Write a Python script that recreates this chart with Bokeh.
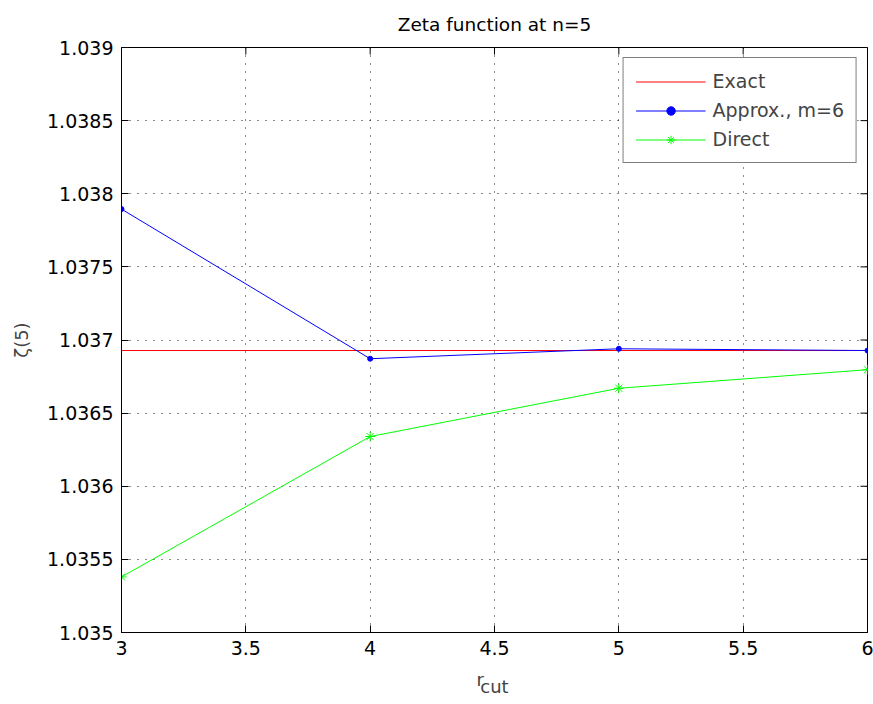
import math
from bokeh.plotting import figure
from bokeh.models import FixedTicker, Range1d, Title
from bokeh.embed import file_html
from bokeh.resources import INLINE

# ---- data ----
r_cut = [3, 4, 5, 6]
exact = [1.036928, 1.036928, 1.036928, 1.036928]
approx_m6 = [1.037895, 1.036872, 1.036940, 1.036928]
direct = [1.035380, 1.036340, 1.036670, 1.036797]

x_ticks = [3, 3.5, 4, 4.5, 5, 5.5, 6]
x_tick_labels = ["3", "3.5", "4", "4.5", "5", "5.5", "6"]
y_ticks = [1.035, 1.0355, 1.036, 1.0365, 1.037, 1.0375, 1.038, 1.0385, 1.039]
y_tick_labels = ["1.035", "1.0355", "1.036", "1.0365", "1.037", "1.0375",
                 "1.038", "1.0385", "1.039"]

FONT = "DejaVu Sans"
FS = "19px"

p = figure(width=873, height=704, output_backend="svg", toolbar_location=None,
           x_range=Range1d(x_ticks[0], x_ticks[-1]),
           y_range=Range1d(y_ticks[0], y_ticks[-1]),
           min_border_left=121, min_border_right=6, min_border_top=47,
           min_border_bottom=72, background_fill_color="white",
           border_fill_color="white")

p.title.text = "Zeta function at n=5"
p.title.align = "center"
p.title.vertical_align = "top"
p.title.text_font = FONT
p.title.text_font_size = "18.5px"
p.title.text_font_style = "normal"
p.title.text_color = "black"
p.title.standoff = 22

p.outline_line_color = "black"
p.outline_line_width = 1

def style_axis(ax, ticks, labels):
    ax.ticker = FixedTicker(ticks=ticks)
    ax.major_label_overrides = {t: l for t, l in zip(ticks, labels)}
    ax.minor_tick_line_color = None
    ax.major_tick_in = 7
    ax.major_tick_out = 0
    ax.major_tick_line_color = "black"
    ax.axis_line_color = "black"
    ax.major_label_text_font = FONT
    ax.major_label_text_font_size = FS
    ax.major_label_text_color = "black"
    ax.major_label_standoff = 8

style_axis(p.xaxis[0], x_ticks, x_tick_labels)
style_axis(p.yaxis[0], y_ticks, y_tick_labels)
p.yaxis[0].axis_label = "ζ(5)"
p.yaxis[0].axis_label_text_font = FONT
p.yaxis[0].axis_label_text_font_size = "18px"
p.yaxis[0].axis_label_text_font_style = "normal"
p.yaxis[0].axis_label_standoff = 12

# x label: r with subscript "cut"
p.xaxis[0].axis_label = "cut"
p.xaxis[0].axis_label_text_font = FONT
p.xaxis[0].axis_label_text_font_size = "18px"
p.xaxis[0].axis_label_text_font_style = "normal"
p.xaxis[0].axis_label_standoff = 18
p.add_layout(Title(text="r", align="left", offset=355, standoff=-62,
                   vertical_align="top", text_font=FONT, text_font_size="18px",
                   text_font_style="normal"), "below")

# inward ticks on the top and right edges of the box
p.scatter(x_ticks, [y_ticks[-1]] * len(x_ticks), marker="dash", angle=math.pi / 2,
          size=14, line_color="black", line_width=1)
p.scatter([x_ticks[-1]] * len(y_ticks), y_ticks, marker="dash",
          size=14, line_color="black", line_width=1)

p.xgrid.ticker = FixedTicker(ticks=x_ticks)
p.ygrid.ticker = FixedTicker(ticks=y_ticks)
p.grid.grid_line_color = "black"
p.grid.grid_line_dash = "1 7"
p.grid.grid_line_alpha = 0.9

# series
p.line(r_cut, exact, line_color="#ff0000", line_width=1, legend_label="Exact")
p.line(r_cut, approx_m6, line_color="#0000ff", line_width=1, legend_label="Approx., m=6")
p.scatter(r_cut, approx_m6, marker="circle", size=5, fill_color="#0000ff",
          line_color="#0000ff", legend_label="Approx., m=6")
p.line(r_cut, direct, line_color="#00ff00", line_width=1, legend_label="Direct")
p.scatter(r_cut, direct, marker="asterisk", size=10, line_color="#00ff00",
          line_width=1, legend_label="Direct")

leg = p.legend[0]
leg.location = "top_right"
leg.margin = 10
leg.padding = 12
leg.spacing = 7
leg.label_height = 21
leg.glyph_height = 21
leg.glyph_width = 70
leg.label_standoff = 7
leg.label_text_font = FONT
leg.label_text_font_size = FS
leg.border_line_color = "black"
leg.border_line_width = 1
leg.background_fill_color = "white"
leg.background_fill_alpha = 1

open("out.html", "w").write(file_html(p, INLINE))
